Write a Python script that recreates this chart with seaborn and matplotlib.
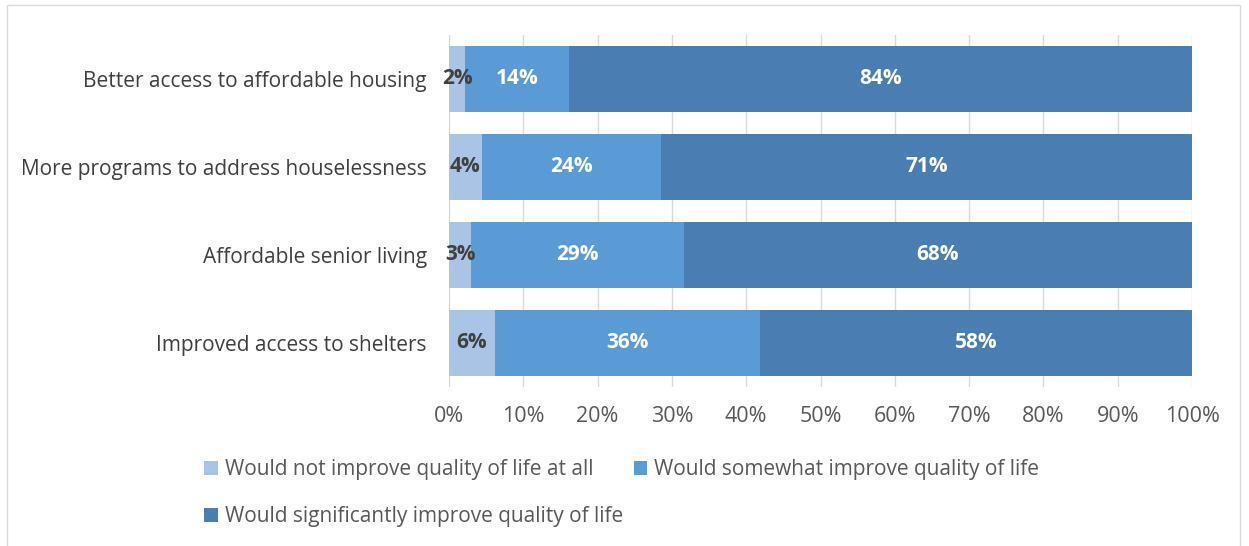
import numpy as np
import pandas as pd
import matplotlib
matplotlib.use("Agg")
import matplotlib.pyplot as plt
import seaborn as sns
from matplotlib.patches import Patch, Rectangle
from matplotlib.ticker import PercentFormatter

# Survey results: share of respondents per answer (%)
categories = [
    "Better access to affordable housing",
    "More programs to address houselessness",
    "Affordable senior living",
    "Improved access to shelters",
]
not_at_all = [2.2, 4.4, 3.0, 6.2]
somewhat = [14.0, 24.2, 28.6, 35.7]
significantly = [83.8, 71.4, 68.4, 58.1]
series_names = [
    "Would not improve quality of life at all",
    "Would somewhat improve quality of life",
    "Would significantly improve quality of life",
]
x_ticks = [0, 10, 20, 30, 40, 50, 60, 70, 80, 90, 100]

colors = ["#a9c4e4", "#5b9bd5", "#4a7db2"]
label_colors = ["#404040", "white", "white"]
text_color = "#404040"
tick_color = "#595959"
fs = 15

sns.set_theme(style="white")
plt.rcParams["font.family"] = ["Open Sans", "DejaVu Sans"]

df = pd.DataFrame({
    "category": categories,
    series_names[0]: not_at_all,
    series_names[1]: somewhat,
    series_names[2]: significantly,
})
values = df[series_names].to_numpy()
cum = np.cumsum(values, axis=1)

fig = plt.figure(figsize=(12.49, 5.46), dpi=100)
ax = fig.add_axes([449 / 1249, 1 - 387 / 546, 743 / 1249, 352 / 546])

# Stacked bars: draw cumulative totals from the outermost segment inward
for i in [2, 1, 0]:
    plot_df = pd.DataFrame({"category": categories, "total": cum[:, i]})
    sns.barplot(data=plot_df, x="total", y="category", orient="h",
                color=colors[i], saturation=1, width=0.74, linewidth=0, ax=ax)

# Segment value labels
for j in range(len(categories)):
    start = 0.0
    for i in range(3):
        v = values[j, i]
        ax.text(start + v / 2, j, f"{round(v):.0f}%", ha="center", va="center",
                color=label_colors[i], fontsize=fs, fontweight="bold")
        start += v

ax.set_xlim(0, 100)
ax.set_xticks(x_ticks)
ax.xaxis.set_major_formatter(PercentFormatter(decimals=0))
ax.set_axisbelow(True)
ax.xaxis.grid(True, color="#d9d9d9", linewidth=1)
ax.yaxis.grid(False)
for s in ax.spines.values():
    s.set_visible(False)
ax.set_xlabel("")
ax.set_ylabel("")
ax.tick_params(axis="x", length=0, pad=14, labelsize=15.5, labelcolor=tick_color)
ax.tick_params(axis="y", length=0, pad=16, labelsize=fs, labelcolor=text_color)

# Legend laid out row by row: two entries, then the third below
handles = [Patch(facecolor=c, edgecolor="none") for c in colors]
order = [0, 2, 1]
fig.legend([handles[k] for k in order], [series_names[k] for k in order],
           ncol=2, loc="upper left", bbox_to_anchor=(204 / 1249, 1 - 459 / 546),
           frameon=False, fontsize=fs, labelcolor=tick_color,
           handlelength=0.65, handleheight=0.65, handletextpad=0.35,
           columnspacing=0.5, labelspacing=1.25, borderpad=0, borderaxespad=0)

# Thin chart-area border
fig.add_artist(Rectangle((7 / 1249, -0.05), (1240 - 7) / 1249, 1.05 - 5 / 546,
                         transform=fig.transFigure, fill=False,
                         edgecolor="#d9d9d9", linewidth=1))

fig.savefig("out.png", dpi=100)
